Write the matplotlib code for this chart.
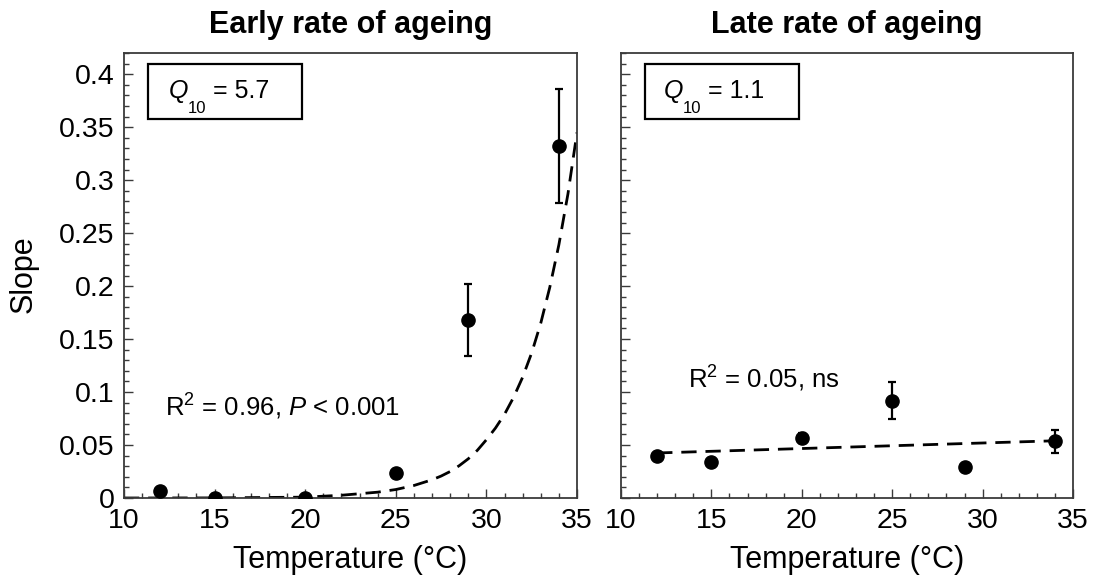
import matplotlib
matplotlib.use("Agg")
import matplotlib.pyplot as plt
from matplotlib.patches import Rectangle
from matplotlib.ticker import MultipleLocator, FixedLocator, FixedFormatter
from matplotlib.transforms import offset_copy

plt.rcParams['font.family'] = ['Liberation Sans', 'DejaVu Sans']
plt.rcParams['mathtext.fontset'] = 'custom'
plt.rcParams['mathtext.rm'] = 'Liberation Sans'
plt.rcParams['mathtext.it'] = 'Liberation Sans:italic'

# ---- data ----
temps = [12, 15, 20, 25, 29, 34]
early_slope = [0.007, 0.000, 0.000, 0.0235, 0.168, 0.332]
early_err = [0.002, 0.004, 0.002, 0.002, 0.034, 0.054]
late_slope = [0.040, 0.034, 0.0565, 0.092, 0.029, 0.0535]
late_err = [0.002, 0.002, 0.005, 0.0175, 0.003, 0.011]

early_fit_t = [10, 15, 20, 22, 24, 25, 26, 27, 27.5, 28, 28.5, 29, 29.5,
               30, 30.5, 31, 31.5, 32, 32.5, 33, 33.5, 34, 34.5, 35]
early_fit_y = [0.0, 0.0001, 0.0008, 0.0026, 0.0055, 0.008, 0.0118, 0.0172,
               0.0207, 0.025, 0.0305, 0.037, 0.045, 0.055, 0.066, 0.079,
               0.095, 0.114, 0.137, 0.165, 0.199, 0.239, 0.287, 0.345]
late_fit_t = [12, 20, 29, 34]
late_fit_y = [0.0425, 0.0467, 0.0514, 0.054]

ytick_vals = [0, 0.05, 0.1, 0.15, 0.2, 0.25, 0.3, 0.35, 0.4]
ytick_labels = ['0', '0.05', '0.1', '0.15', '0.2', '0.25', '0.3', '0.35', '0.4']
xtick_vals = [10, 15, 20, 25, 30, 35]

titles = ['Early rate of ageing', 'Late rate of ageing']
q10_values = ['= 5.7', '= 1.1']
q10_pos = [(12.48, 0.3776), (12.38, 0.3776)]
r2_texts = [r'R$^2$ = 0.96, $P$ < 0.001', r'R$^2$ = 0.05, ns']
r2_pos = [(12.26, 0.0772), (13.72, 0.1035)]

W, H = 1099, 581
fig = plt.figure(figsize=(W / 100, H / 100), dpi=100)
ax1 = fig.add_axes([124 / W, 1 - 498 / H, (577 - 124) / W, (498 - 53) / H])
ax2 = fig.add_axes([621 / W, 1 - 498 / H, (1073 - 621) / W, (498 - 53) / H])

spine_c = '#3a3a3a'
panels = [
    (ax1, early_slope, early_err, early_fit_t, early_fit_y),
    (ax2, late_slope, late_err, late_fit_t, late_fit_y),
]
for i, (ax, ys, es, ft, fy) in enumerate(panels):
    ax.plot(ft, fy, color='black', lw=2.0, ls=(0, (5.5, 3.2)), zorder=2)
    ax.errorbar(temps, ys, yerr=es, fmt='o', color='black', ms=9.5,
                elinewidth=1.6, capsize=3.2, capthick=1.6, zorder=3)
    ax.set_xlim(10, 35)
    ax.set_ylim(0, 0.42)
    ax.xaxis.set_major_locator(FixedLocator(xtick_vals))
    ax.xaxis.set_minor_locator(MultipleLocator(1))
    ax.yaxis.set_major_locator(FixedLocator(ytick_vals))
    ax.yaxis.set_minor_locator(MultipleLocator(0.01))
    if i == 0:
        ax.yaxis.set_major_formatter(FixedFormatter(ytick_labels))
    else:
        ax.set_yticklabels([])
    ax.tick_params(which='both', direction='in', top=False, right=False,
                   color=spine_c, width=1.0)
    ax.tick_params(which='major', length=6.5, labelsize=20.5, pad=7)
    ax.tick_params(which='minor', length=3.5)
    for s in ax.spines.values():
        s.set_color(spine_c)
        s.set_linewidth(1.3)
    ax.text(0.5, 1 + 20 / 445, titles[i], transform=ax.transAxes,
            fontsize=22, fontweight='bold', ha='center', va='baseline')
    ax.text(0.5, -70 / 445, 'Temperature (°C)', transform=ax.transAxes,
            fontsize=22, ha='center', va='baseline')
    ax.add_patch(Rectangle((11.3, 0.358), 8.55, 0.052, fill=False,
                           edgecolor='black', lw=1.6, zorder=4))
    qx, qy = q10_pos[i]
    ax.text(qx, qy, 'Q', fontsize=18, style='italic', ha='left',
            va='baseline', zorder=5)
    ax.text(qx, qy, '10', fontsize=12, ha='left', va='baseline', zorder=5,
            transform=offset_copy(ax.transData, fig=fig, x=19, y=-15,
                                  units='dots'))
    ax.text(qx, qy, q10_values[i], fontsize=18, ha='left', va='baseline',
            zorder=5,
            transform=offset_copy(ax.transData, fig=fig, x=44, y=0,
                                  units='dots'))
    ax.text(r2_pos[i][0], r2_pos[i][1], r2_texts[i], fontsize=18.5,
            ha='left', va='baseline')

fig.text(24 / W, 1 - 274 / H, 'Slope', rotation=90, fontsize=22,
         ha='center', va='center')

fig.savefig('out.png', dpi=100)
